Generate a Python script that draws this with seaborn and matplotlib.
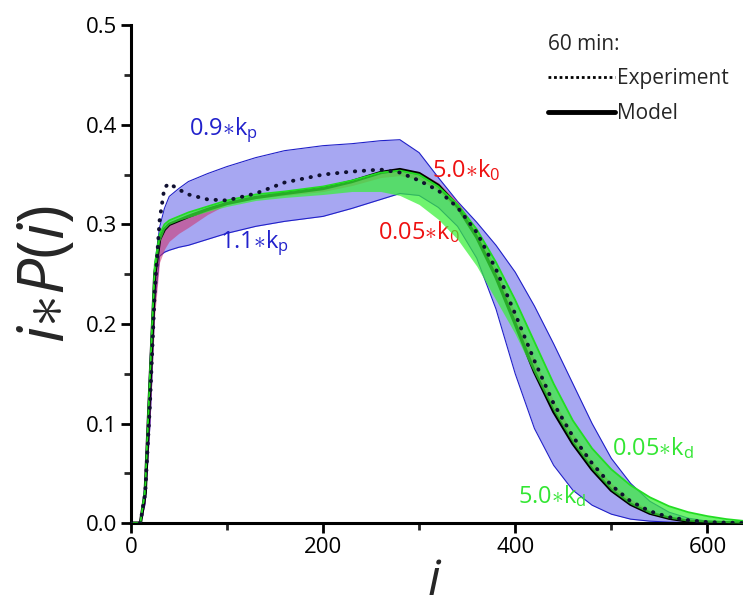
import numpy as np
import pandas as pd
import matplotlib
matplotlib.use("Agg")
import matplotlib.pyplot as plt
import seaborn as sns
from matplotlib.lines import Line2D
from matplotlib.ticker import MultipleLocator

# ---------------- data ----------------
i_grid = [0, 10, 15, 20, 25, 30, 35, 40, 50, 60, 80, 100, 130, 160, 200, 230, 260, 280,
          300, 320, 340, 360, 380, 400, 420, 440, 460, 480, 500, 520, 540, 560, 580,
          600, 620, 640]

model = [0, 0.0, 0.03, 0.14, 0.25, 0.285, 0.295, 0.300, 0.304, 0.308, 0.315, 0.321, 0.327,
         0.331, 0.336, 0.343, 0.352, 0.355, 0.351, 0.339, 0.318, 0.287, 0.247, 0.200,
         0.152, 0.112, 0.080, 0.054, 0.033, 0.019, 0.010, 0.005, 0.002, 0.001, 0.0005, 0.0]

experiment = [0, 0.0, 0.03, 0.12, 0.234, 0.304, 0.337, 0.341, 0.335, 0.330, 0.325, 0.324,
              0.331, 0.342, 0.350, 0.353, 0.355, 0.352, 0.344, 0.334, 0.317, 0.292, 0.255,
              0.210, 0.163, 0.120, 0.087, 0.060, 0.038, 0.022, 0.012, 0.006, 0.003, 0.001,
              0.0005, 0.0]

kp_low = [0, 0.0, 0.02, 0.10, 0.22, 0.268, 0.272, 0.274, 0.277, 0.279, 0.285, 0.291, 0.298,
          0.303, 0.308, 0.316, 0.325, 0.331, 0.329, 0.317, 0.298, 0.266, 0.215, 0.150,
          0.095, 0.058, 0.033, 0.018, 0.009, 0.004, 0.002, 0.001, 0.0005, 0.0, 0.0, 0.0]

kp_high = [0, 0.0, 0.04, 0.16, 0.26, 0.297, 0.316, 0.328, 0.336, 0.343, 0.351, 0.358, 0.367,
           0.374, 0.379, 0.381, 0.384, 0.385, 0.372, 0.347, 0.323, 0.302, 0.279, 0.252,
           0.218, 0.180, 0.140, 0.100, 0.065, 0.040, 0.022, 0.011, 0.005, 0.002, 0.001, 0.0]

k0_low = [0, 0.0, 0.02, 0.10, 0.21, 0.262, 0.275, 0.283, 0.291, 0.297, 0.310, 0.320, 0.326,
          0.329, 0.333, 0.339, 0.347, 0.349, 0.345, 0.334, 0.314, 0.284, 0.245, 0.198,
          0.150, 0.110, 0.078, 0.052, 0.032, 0.018, 0.009, 0.004, 0.002, 0.001, 0.0, 0.0]

k0_high = [0, 0.0, 0.03, 0.14, 0.25, 0.286, 0.296, 0.301, 0.305, 0.309, 0.316, 0.322, 0.328,
           0.332, 0.337, 0.344, 0.353, 0.356, 0.353, 0.342, 0.323, 0.294, 0.256, 0.211,
           0.164, 0.123, 0.090, 0.062, 0.040, 0.024, 0.013, 0.007, 0.003, 0.001, 0.0005, 0.0]

kd_low = [0, 0.0, 0.03, 0.14, 0.25, 0.283, 0.295, 0.300, 0.304, 0.307, 0.313, 0.318, 0.324,
          0.327, 0.330, 0.333, 0.333, 0.329, 0.320, 0.305, 0.285, 0.258, 0.224, 0.190,
          0.150, 0.112, 0.080, 0.054, 0.033, 0.019, 0.010, 0.005, 0.002, 0.001, 0.0005, 0.0]

kd_high = [0, 0.0, 0.035, 0.15, 0.26, 0.290, 0.300, 0.304, 0.308, 0.312, 0.318, 0.324, 0.330,
           0.333, 0.338, 0.344, 0.352, 0.354, 0.350, 0.338, 0.320, 0.295, 0.262, 0.224,
           0.182, 0.140, 0.103, 0.075, 0.054, 0.038, 0.026, 0.017, 0.011, 0.007, 0.004, 0.002]

x_ticks = [0, 200, 400, 600]
y_ticks = [0.0, 0.1, 0.2, 0.3, 0.4, 0.5]

# ---------------- style ----------------
sns.set_theme(style="ticks")
plt.rcParams['font.family'] = ['Open Sans', 'DejaVu Sans']
plt.rcParams['mathtext.fontset'] = 'custom'
plt.rcParams['mathtext.rm'] = 'Open Sans'
plt.rcParams['mathtext.it'] = 'Open Sans:italic'

fig = plt.figure(figsize=(7.43, 6.14), dpi=100)
ax = fig.add_axes([0.176, 0.148, 0.824, 0.811])

df = pd.DataFrame({"i": i_grid, "model": model, "experiment": experiment})

BLUE_FILL = "#5050e6"
BLUE_EDGE = "#2020c8"
RED_FILL = "#d0306a"
GREEN_FILL = "#38f038"
GREEN_EDGE = "#22dd22"

ax.fill_between(i_grid, kp_low, kp_high, color=BLUE_FILL, alpha=0.5, lw=0, zorder=1)
ax.plot(i_grid, kp_low, color=BLUE_EDGE, lw=0.8, zorder=1.1)
ax.plot(i_grid, kp_high, color=BLUE_EDGE, lw=0.8, zorder=1.1)

ax.fill_between(i_grid, k0_low, k0_high, color=RED_FILL, alpha=0.55, lw=0, zorder=2)

sns.lineplot(data=df, x="i", y="model", ax=ax, color="black", lw=2.4, zorder=3)

ax.fill_between(i_grid, kd_low, kd_high, color=GREEN_FILL, alpha=0.72, lw=0, zorder=4)
ax.plot(i_grid, kd_high, color=GREEN_EDGE, lw=1.3, zorder=4.1)

sns.lineplot(data=df, x="i", y="experiment", ax=ax, color="#101030", lw=2.8,
             zorder=5)
ax.lines[-1].set_linestyle((0, (0.1, 2.2)))
ax.lines[-1].set_dash_capstyle('round')

# annotations
fs = 17
ax.text(61, 0.395, "0.9$\\ast$k$_\\mathregular{p}$", color="#2222cc", fontsize=fs,
        ha="left", va="center")
ax.text(93, 0.281, "1.1$\\ast$k$_\\mathregular{p}$", color="#2222cc", fontsize=fs,
        ha="left", va="center")
ax.text(313, 0.354, "5.0$\\ast$k$_\\mathregular{0}$", color="#ee1111", fontsize=fs,
        ha="left", va="center")
ax.text(257, 0.292, "0.05$\\ast$k$_\\mathregular{0}$", color="#ee1111", fontsize=fs,
        ha="left", va="center")
ax.text(501, 0.075, "0.05$\\ast$k$_\\mathregular{d}$", color="#33e633", fontsize=fs,
        ha="left", va="center")
ax.text(403, 0.027, "5.0$\\ast$k$_\\mathregular{d}$", color="#33e633", fontsize=fs,
        ha="left", va="center")

# legend
handles = [Line2D([], [], color="black", lw=2.0, linestyle=(0, (1, 1))),
           Line2D([], [], color="black", lw=3.5)]
leg = ax.legend(handles, ["Experiment", "Model"], title="60 min:", frameon=False,
                loc="upper right", bbox_to_anchor=(1.0, 1.012), fontsize=15,
                title_fontsize=15, handlelength=3.2, handletextpad=0.1,
                labelspacing=0.65, borderaxespad=0.3)
leg._legend_box.align = "left"

# axes
ax.set_xlim(0, 637)
ax.set_ylim(0, 0.5)
ax.set_xticks(x_ticks)
ax.set_yticks(y_ticks)
ax.set_yticklabels([f"{v:.1f}" for v in y_ticks])
ax.xaxis.set_minor_locator(MultipleLocator(100))
ax.yaxis.set_minor_locator(MultipleLocator(0.05))
ax.tick_params(which="major", direction="out", length=7, width=2, labelsize=16,
               colors="black", pad=3)
ax.tick_params(which="minor", direction="out", length=5, width=2)
for s in ["top", "right"]:
    ax.spines[s].set_visible(False)
for s in ["left", "bottom"]:
    ax.spines[s].set_linewidth(2.2)
    ax.spines[s].set_color("black")

ax.set_xlabel("$\\mathit{i}$", fontsize=36)
ax.xaxis.set_label_coords(0.497, -0.07)
ax.set_ylabel("$\\mathit{i}$$\\ast$$\\mathit{P}$($\\mathit{i}$)", fontsize=46)
ax.yaxis.set_label_coords(-0.085, 0.5)
ax.set_facecolor("white")

fig.savefig("out.png", dpi=100)
